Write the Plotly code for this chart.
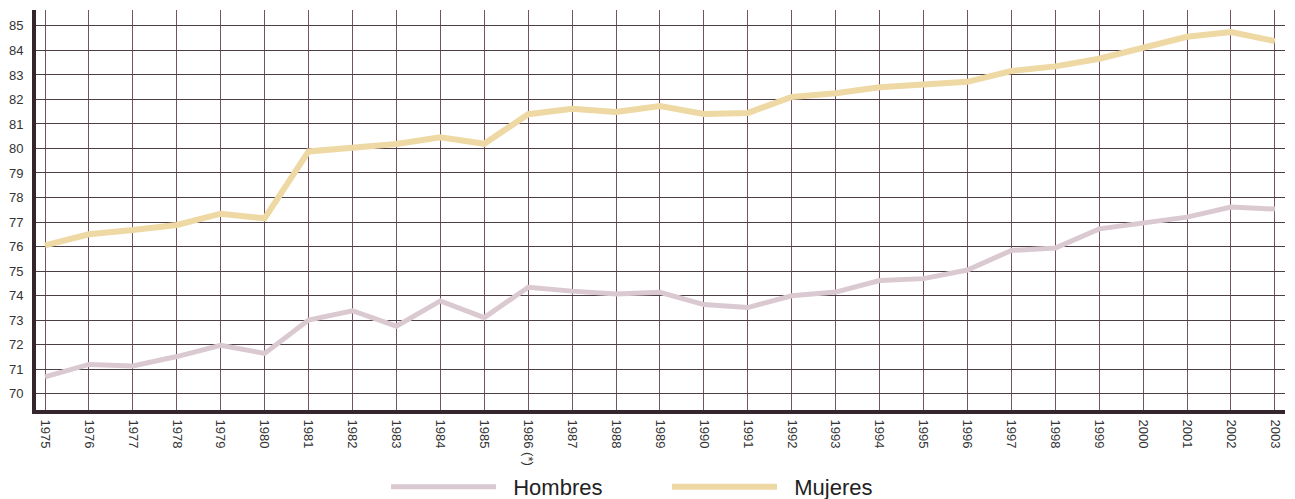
import plotly.graph_objects as go

years = list(range(1975, 2004))
year_labels = [str(y) for y in years]
year_labels[years.index(1986)] = "1986 (*)"

hombres = [70.68, 71.19, 71.13, 71.51, 71.97, 71.64, 73.0, 73.38, 72.75, 73.78,
           73.1, 74.34, 74.18, 74.06, 74.13, 73.63, 73.51, 73.99, 74.14, 74.61,
           74.69, 75.04, 75.84, 75.94, 76.72, 76.95, 77.2, 77.61, 77.53]
mujeres = [76.05, 76.5, 76.67, 76.88, 77.34, 77.15, 79.88, 80.0, 80.18, 80.46,
           80.19, 81.4, 81.62, 81.49, 81.73, 81.41, 81.45, 82.1, 82.25, 82.5,
           82.64, 82.72, 83.16, 83.35, 83.66, 84.12, 84.56, 84.75, 84.38]
y_ticks = list(range(70, 86))

NB = "\u00a0\u00a0"
fig = go.Figure()
fig.add_trace(go.Scatter(x=years, y=hombres, mode="lines", name=NB + "Hombres",
                         line=dict(color="#dbc9d1", width=5)))
fig.add_trace(go.Scatter(x=years, y=mujeres, mode="lines", name=NB + "Mujeres",
                         line=dict(color="#eed8a4", width=6)))

fam = "Liberation Sans, Arial, Helvetica, sans-serif"
# page body has an 8px default margin, so the figure is sized 8px smaller
fig.update_layout(
    width=1287, height=491,
    margin=dict(l=28, r=10, t=2, b=89),
    paper_bgcolor="white", plot_bgcolor="white",
    font=dict(family=fam, color="#333333"),
    xaxis=dict(range=[1974.795, 2003.23], tickvals=years, ticktext=year_labels,
               tickangle=90, showgrid=True, gridcolor="#745260", gridwidth=1,
               showline=True, linecolor="#35262d", linewidth=4,
               zeroline=False, ticks="", automargin=False,
               tickfont=dict(size=13, color="#333333", family=fam),
               ticklabelstandoff=3),
    yaxis=dict(range=[69.33, 85.65], tickvals=y_ticks, showgrid=True,
               gridcolor="#4e3e45", gridwidth=1, showline=True,
               linecolor="#35262d", linewidth=4, zeroline=False, ticks="",
               automargin=False, ticklabelstandoff=6,
               tickfont=dict(size=13, color="#333333", family=fam)),
    showlegend=True,
    legend=dict(orientation="h", xref="container", yref="container",
                x=0.2937, y=0.0244, xanchor="left", yanchor="middle",
                itemwidth=105, entrywidth=161,
                font=dict(size=22, color="#222222", family=fam),
                bgcolor="rgba(0,0,0,0)"),
)

fig.write_html("out.html")
